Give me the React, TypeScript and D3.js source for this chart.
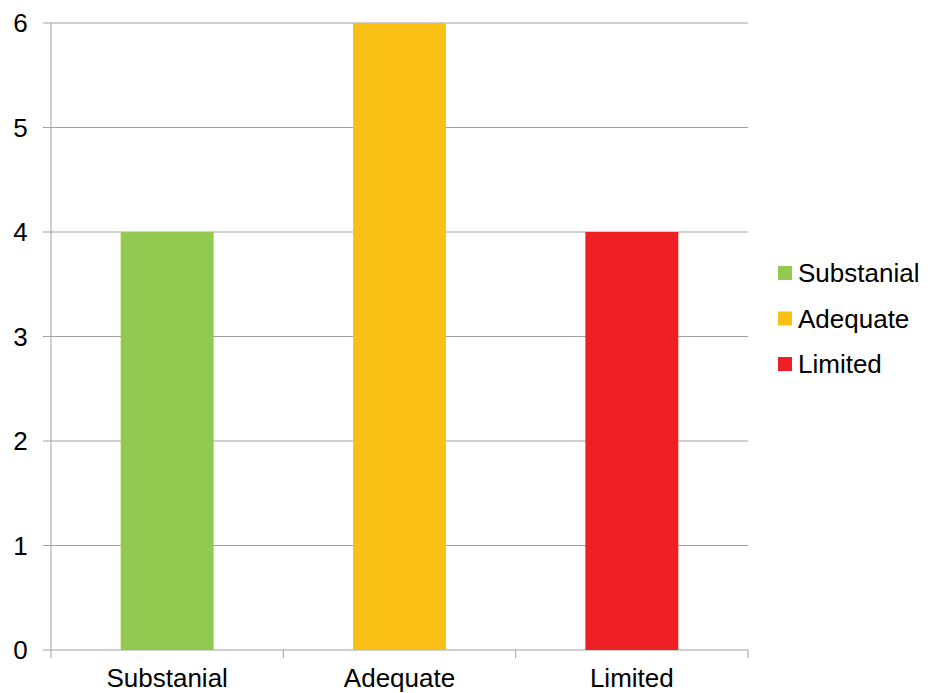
import React from "react";
import * as d3 from "d3";

const categories = ["Substanial", "Adequate", "Limited"];
const values = [4, 6, 4];
const colors = ["#92C950", "#FBC015", "#EE1F25"];
const yTicks = [0, 1, 2, 3, 4, 5, 6];

export default function App() {
  const W = 931, H = 693;
  const left = 51, right = 748, top = 23, bottom = 650;
  const x = d3.scaleBand<string>().domain(categories).range([left, right]).paddingInner(0).paddingOuter(0);
  const y = d3.scaleLinear().domain([0, 6]).range([bottom, top]);
  const barW = x.bandwidth() * 0.4;
  const font = "'Liberation Sans', Arial, sans-serif";
  const grid = "#a0a0a0";
  const boundaries = [...categories.map((c) => x(c)!), right];
  return (
    <svg width={W} height={H} style={{ position: "absolute", left: 0, top: 0 }} fontFamily={font}>
      <rect width={W} height={H} fill="#fff" />
      {yTicks.map((t) => (
        <g key={t}>
          <line x1={43} x2={right} y1={y(t)} y2={y(t)} stroke={grid} strokeWidth={1} />
          <text x={20.5} y={y(t)} dy="0.36em" textAnchor="middle" fontSize={26} fill="#000">{t}</text>
        </g>
      ))}
      <line x1={left} x2={left} y1={top} y2={bottom + 8} stroke={grid} strokeWidth={1} />
      {boundaries.slice(1).map((b, i) => (
        <line key={i} x1={b} x2={b} y1={bottom} y2={bottom + 8} stroke={grid} strokeWidth={1} />
      ))}
      {categories.map((c, i) => (
        <g key={c}>
          <rect x={x(c)! + (x.bandwidth() - barW) / 2} y={y(values[i])} width={barW} height={y(0) - y(values[i])} fill={colors[i]} />
          <text x={x(c)! + x.bandwidth() / 2} y={687} textAnchor="middle" fontSize={26} fill="#000">{c}</text>
        </g>
      ))}
      {categories.map((c, i) => (
        <g key={"l" + c} transform={`translate(778, ${273 + i * 45.5})`}>
          <rect x={0} y={-7} width={14} height={14} fill={colors[i]} />
          <text x={20} y={0} dy="0.36em" fontSize={26} fill="#000">{c}</text>
        </g>
      ))}
    </svg>
  );
}
